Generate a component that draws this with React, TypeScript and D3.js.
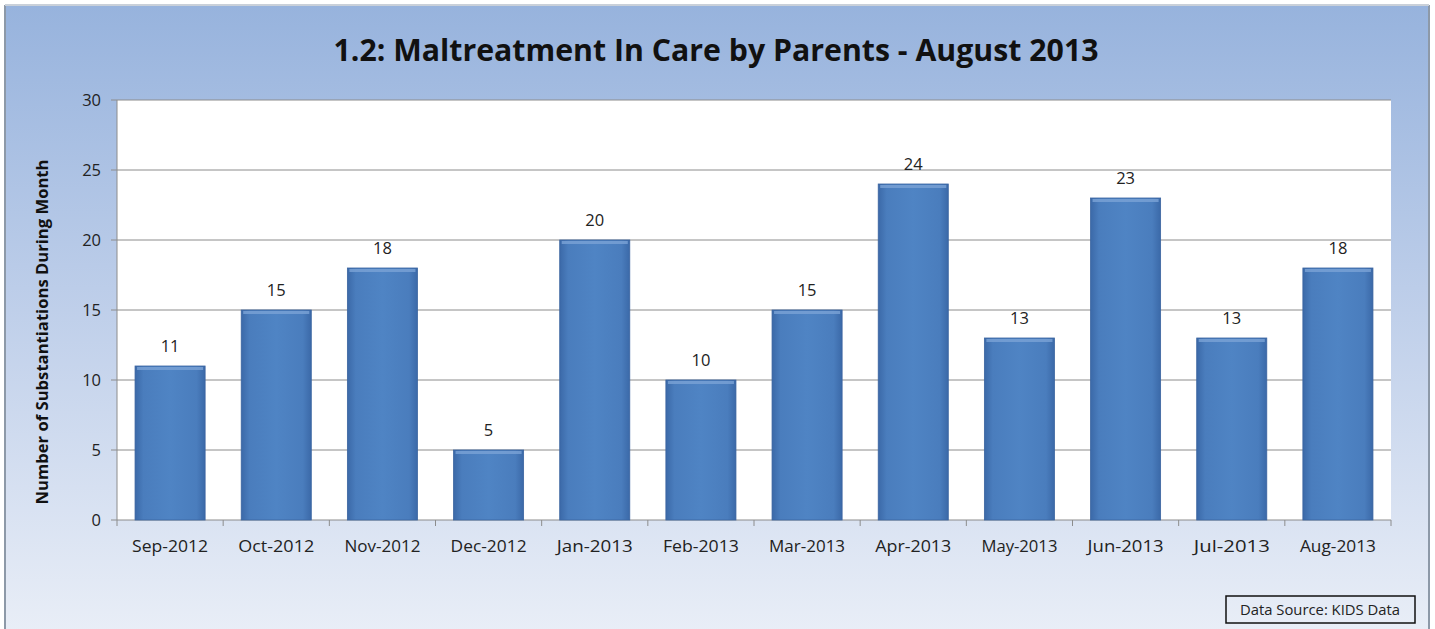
import React from "react";
import * as d3 from "d3";

const months = ["Sep-2012","Oct-2012","Nov-2012","Dec-2012","Jan-2013","Feb-2013","Mar-2013","Apr-2013","May-2013","Jun-2013","Jul-2013","Aug-2013"];
const values = [11, 15, 18, 5, 20, 10, 15, 24, 13, 23, 13, 18];
const yTicks = [0, 5, 10, 15, 20, 25, 30];
const title = "1.2: Maltreatment In Care by Parents - August 2013";
const yLabel = "Number of Substantiations During Month";
const source = "Data Source: KIDS Data";

const W = 1435, H = 629;
const plot = { left: 117, right: 1391, top: 100, bottom: 520 };
const FONT = "'Open Sans', 'Liberation Sans', sans-serif";

export default function App() {
  const x = d3.scaleBand<string>().domain(months).range([plot.left, plot.right]).paddingInner(0.34).paddingOuter(0.17);
  const y = d3.scaleLinear().domain([0, 30]).range([plot.bottom, plot.top]);
  const step = x.step();
  return (
    <svg width={W} height={H} style={{ position: "absolute", left: 0, top: 0 }} fontFamily={FONT}>
      <defs>
        <linearGradient id="bg" x1="0" y1="0" x2="0" y2="1">
          <stop offset="0" stopColor="#97b3dd" />
          <stop offset="0.45" stopColor="#bccde9" />
          <stop offset="1" stopColor="#e9eef7" />
        </linearGradient>
        <linearGradient id="bar" x1="0" y1="0" x2="1" y2="0">
          <stop offset="0" stopColor="#3b69a8" />
          <stop offset="0.12" stopColor="#4a7dbd" />
          <stop offset="0.5" stopColor="#4f84c4" />
          <stop offset="0.88" stopColor="#4a7dbd" />
          <stop offset="1" stopColor="#3b69a8" />
        </linearGradient>
      </defs>
      <rect x={0} y={0} width={W} height={H} fill="#ffffff" />
      <rect x={5} y={5} width={1424} height={H} fill="url(#bg)" />
      <line x1={5} y1={5} x2={5} y2={H} stroke="#8d99a8" strokeWidth={2} />
      <line x1={1429} y1={5} x2={1429} y2={H} stroke="#8d99a8" strokeWidth={2} />
      <line x1={5} y1={5} x2={1429} y2={5} stroke="#c9d0d9" strokeWidth={2} />
      <text x={716} y={61} textAnchor="middle" fontSize={30} fontWeight="bold" fill="#111" textLength={765} lengthAdjust="spacingAndGlyphs">{title}</text>
      <rect x={plot.left} y={plot.top} width={plot.right - plot.left} height={plot.bottom - plot.top} fill="#ffffff" />
      {yTicks.map(t => (
        <g key={t}>
          {t > 0 && <line x1={plot.left} x2={plot.right} y1={y(t)} y2={y(t)} stroke="#8c8c8c" strokeWidth={1} />}
          <line x1={plot.left - 6} x2={plot.left} y1={y(t)} y2={y(t)} stroke="#8c8c8c" />
          <text x={101} y={y(t) + 6} textAnchor="end" fontSize={16.5} fill="#222">{t}</text>
        </g>
      ))}
      <line x1={plot.left} x2={plot.left} y1={plot.top} y2={plot.bottom} stroke="#8c8c8c" />
      <line x1={plot.left} x2={plot.right} y1={plot.bottom} y2={plot.bottom} stroke="#8c8c8c" />
      {months.map((m, i) => (
        <line key={"tk" + m} x1={plot.left + step * (i + 1)} x2={plot.left + step * (i + 1)} y1={plot.bottom} y2={plot.bottom + 6} stroke="#8c8c8c" />
      ))}
      <line x1={plot.left} x2={plot.left} y1={plot.bottom} y2={plot.bottom + 6} stroke="#8c8c8c" />
      {months.map((m, i) => {
        const bx = x(m)!, bw = x.bandwidth(), by = y(values[i]), bh = y(0) - y(values[i]);
        return (
          <g key={m}>
            <rect x={bx} y={by} width={bw} height={bh} fill="url(#bar)" stroke="#3a64a0" strokeWidth={0.8} />
            <rect x={bx + 2} y={by + 1} width={bw - 4} height={3} fill="#7aa3d6" opacity={0.8} />
            <text x={bx + bw / 2} y={by - 14} textAnchor="middle" fontSize={16.5} fill="#222">{values[i]}</text>
            <text x={bx + bw / 2} y={552} textAnchor="middle" fontSize={16.5} fill="#222" textLength={76} lengthAdjust="spacingAndGlyphs">{m}</text>
          </g>
        );
      })}
      <text transform={`translate(48, ${(plot.top + plot.bottom) / 2 + 22}) rotate(-90)`} textAnchor="middle" fontSize={15.5} fontWeight="bold" fill="#111" textLength={345} lengthAdjust="spacingAndGlyphs">{yLabel}</text>
      <rect x={1226} y={596} width={189} height={27} fill="none" stroke="#111" strokeWidth={1.5} />
      <text x={1320} y={615} textAnchor="middle" fontSize={14} fill="#222" textLength={160} lengthAdjust="spacingAndGlyphs">{source}</text>
    </svg>
  );
}
